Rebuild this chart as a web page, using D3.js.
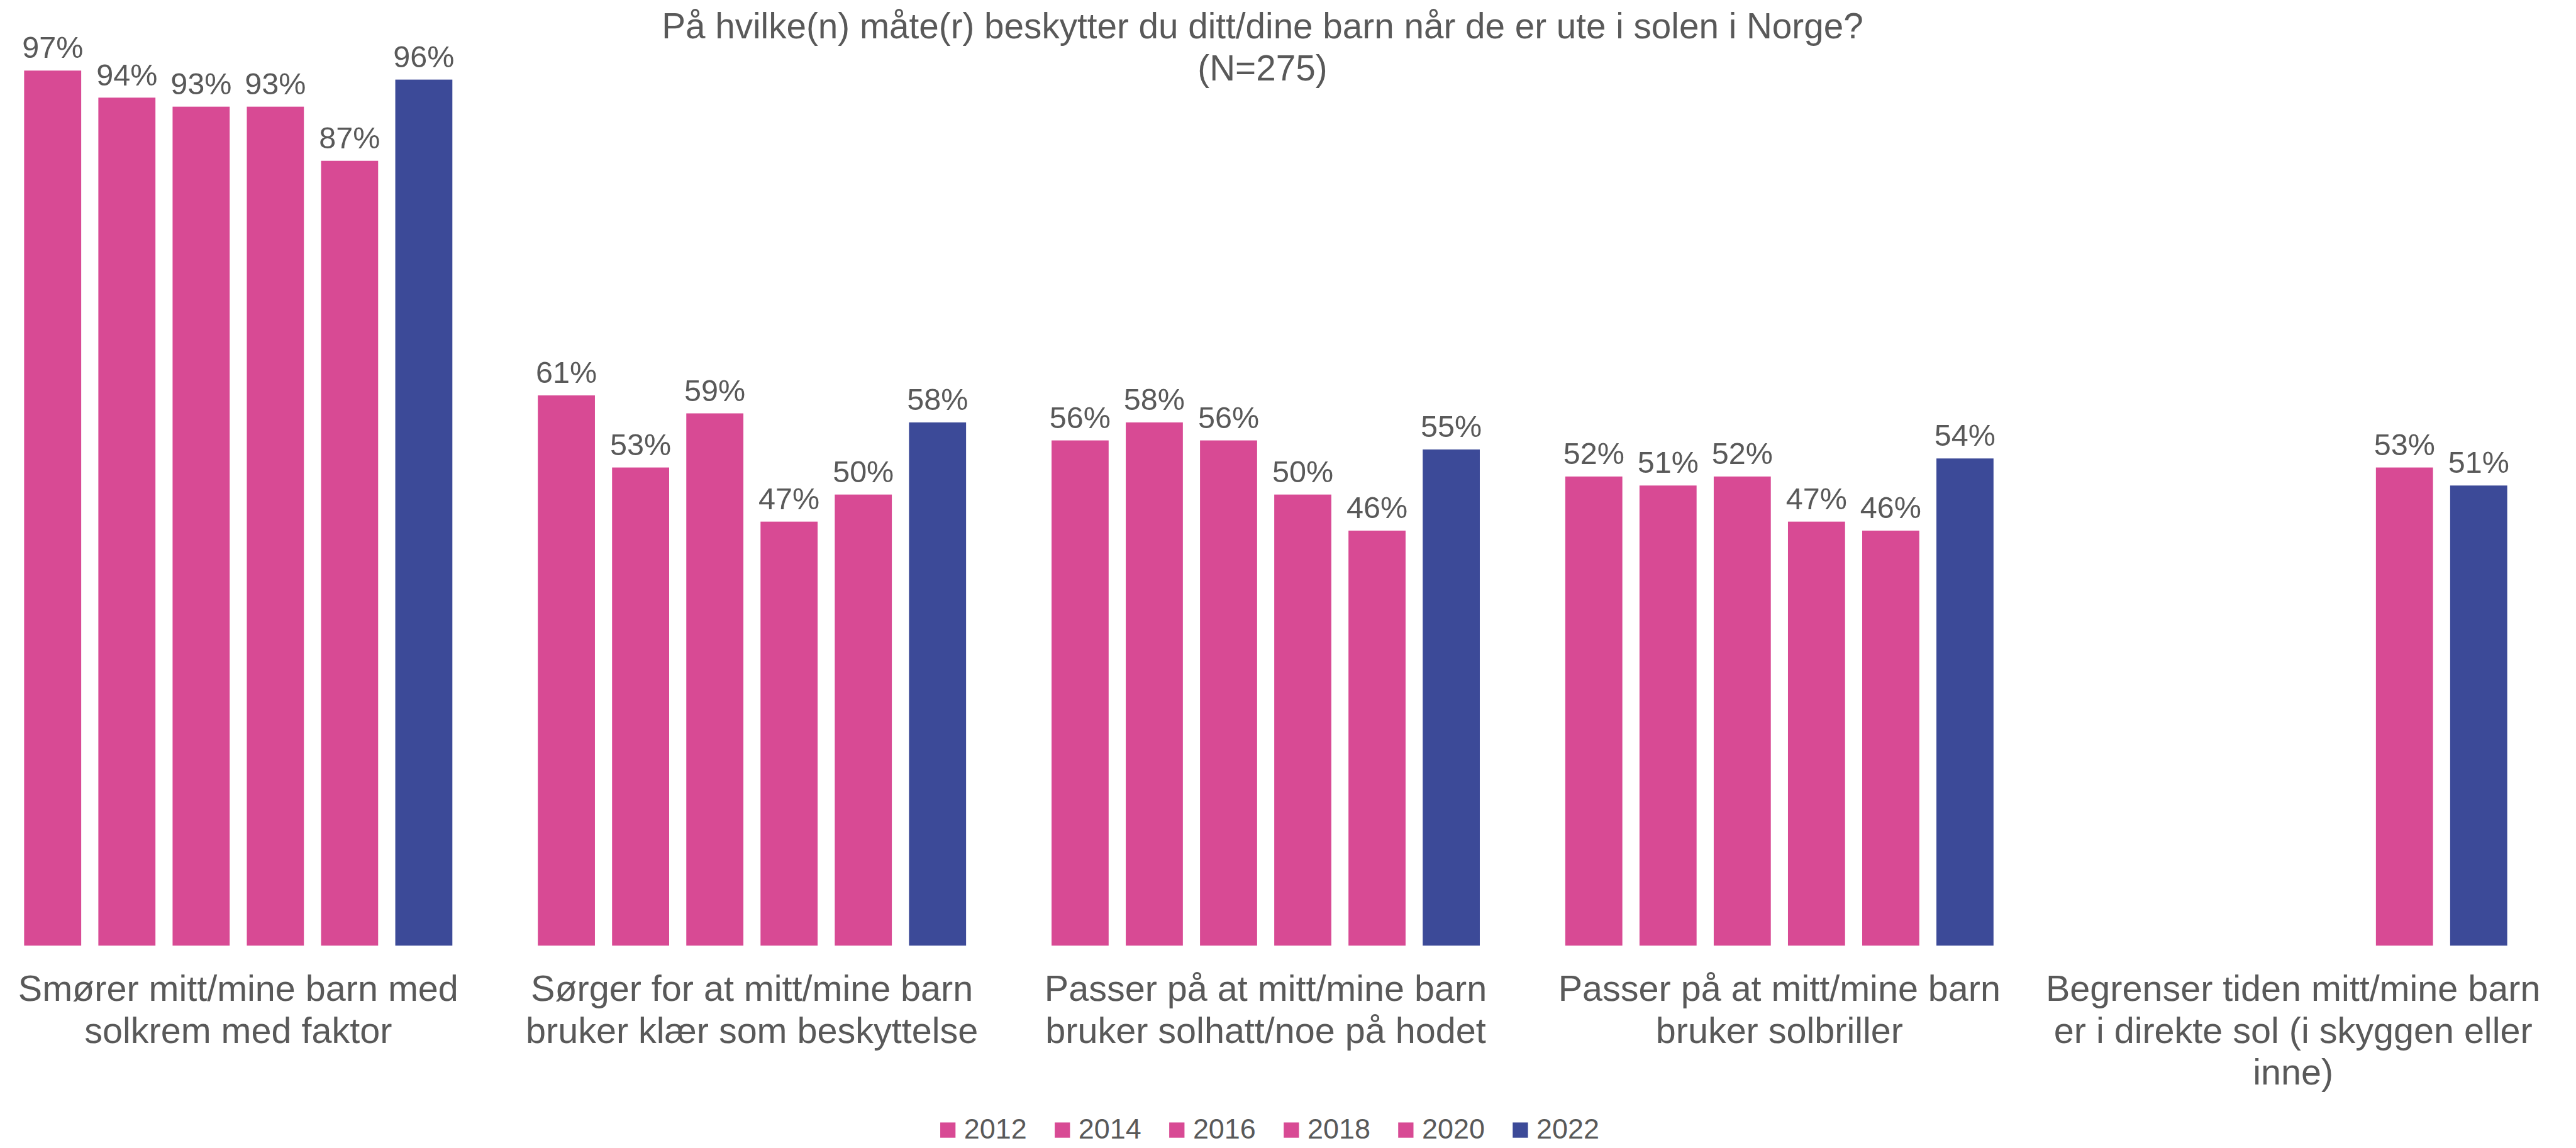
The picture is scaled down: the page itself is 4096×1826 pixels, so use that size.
<!DOCTYPE html>
<html>
<head>
<meta charset="utf-8">
<script src="https://cdn.jsdelivr.net/npm/d3@7"></script>
<style>
  html, body { margin: 0; padding: 0; background: #fff; }
  svg { display: block; font-family: "Liberation Sans", Arial, Helvetica, sans-serif; }
</style>
</head>
<body>
<svg id="chart" width="4096" height="1826"></svg>
<script>
// data
var categories = [
  "Smører mitt/mine barn med\nsolkrem med faktor",
  "Sørger for at mitt/mine barn\nbruker klær som beskyttelse",
  "Passer på at mitt/mine barn\nbruker solhatt/noe på hodet",
  "Passer på at mitt/mine barn\nbruker solbriller",
  "Begrenser tiden mitt/mine barn\ner i direkte sol (i skyggen eller\ninne)"
];
var years = ["2012", "2014", "2016", "2018", "2020", "2022"];
var s2012 = [97, 61, 56, 52, null];
var s2014 = [94, 53, 58, 51, null];
var s2016 = [93, 59, 56, 52, null];
var s2018 = [93, 47, 50, 47, null];
var s2020 = [87, 50, 46, 46, 53];
var s2022 = [96, 58, 55, 54, 51];
var series = [s2012, s2014, s2016, s2018, s2020, s2022];

var titleLines = ["På hvilke(n) måte(r) beskytter du ditt/dine barn når de er ute i solen i Norge?", "(N=275)"];

var pink = "#d84a94", blue = "#3c4a98", textCol = "#595959";
function color(yr) { return yr == "2022" ? blue : pink; }

var k = 0.899; // reference -> window
var svg = d3.select("#chart");
var g = svg.append("g").attr("transform", "scale(" + k + ")");

// scales in reference pixels
var x0 = d3.scaleBand()
  .domain(categories)
  .range([27.5, 4449.7])
  .paddingInner(0.133)
  .paddingOuter(0);

var x1 = d3.scaleBand()
  .domain(years)
  .range([0, x0.bandwidth()])
  .paddingInner(0.231)
  .paddingOuter(0.1155);

var y = d3.scaleLinear().domain([0, 100]).range([1673, 77]);

// title
g.append("text")
  .attr("x", 2233)
  .attr("text-anchor", "middle")
  .attr("fill", textCol)
  .attr("font-size", 63)
  .selectAll("tspan")
  .data(titleLines)
  .enter()
  .append("tspan")
    .attr("x", 2233)
    .attr("y", function(d, i) { return 68 + i * 74; })
    .text(function(d) { return d; });

// bars
var rows = [];
categories.forEach(function(c, ci) {
  years.forEach(function(yr, yi) {
    var v = series[yi][ci];
    if (v != null) rows.push({cat: c, year: yr, value: v});
  });
});

g.selectAll("rect.bar")
  .data(rows)
  .enter()
  .append("rect")
    .attr("class", "bar")
    .attr("x", function(d) { return x0(d.cat) + x1(d.year); })
    .attr("y", function(d) { return y(d.value); })
    .attr("width", x1.bandwidth())
    .attr("height", function(d) { return y(0) - y(d.value); })
    .attr("fill", function(d) { return color(d.year); });

g.selectAll("text.val")
  .data(rows)
  .enter()
  .append("text")
    .attr("class", "val")
    .attr("x", function(d) { return x0(d.cat) + x1(d.year) + x1.bandwidth() / 2; })
    .attr("y", function(d) { return y(d.value) - 22; })
    .attr("text-anchor", "middle")
    .attr("font-size", 54)
    .attr("fill", textCol)
    .text(function(d) { return d.value + "%"; });

// category labels
var cat = g.selectAll("text.cat")
  .data(categories)
  .enter()
  .append("text")
    .attr("class", "cat")
    .attr("text-anchor", "middle")
    .attr("font-size", 64)
    .attr("fill", textCol);

cat.selectAll("tspan")
  .data(function(d) { return d.split("\n").map(function(t) { return {t: t, c: d}; }); })
  .enter()
  .append("tspan")
    .attr("x", function(d) { return x0(d.c) + x0.bandwidth() / 2; })
    .attr("y", function(d, i) { return 1771 + i * 74; })
    .text(function(d) { return d.t; });

// legend
var legend = g.append("g").attr("transform", "translate(1663,0)");
var item = legend.selectAll("g")
  .data(years)
  .enter()
  .append("g")
    .attr("transform", function(d, i) { return "translate(" + (i * 202.5) + ",0)"; });

item.append("rect")
  .attr("y", 1986)
  .attr("width", 27)
  .attr("height", 27)
  .attr("fill", function(d) { return color(d); });

item.append("text")
  .attr("x", 42)
  .attr("y", 2014)
  .attr("font-size", 50)
  .attr("fill", textCol)
  .text(function(d) { return d; });
</script>
</body>
</html>
